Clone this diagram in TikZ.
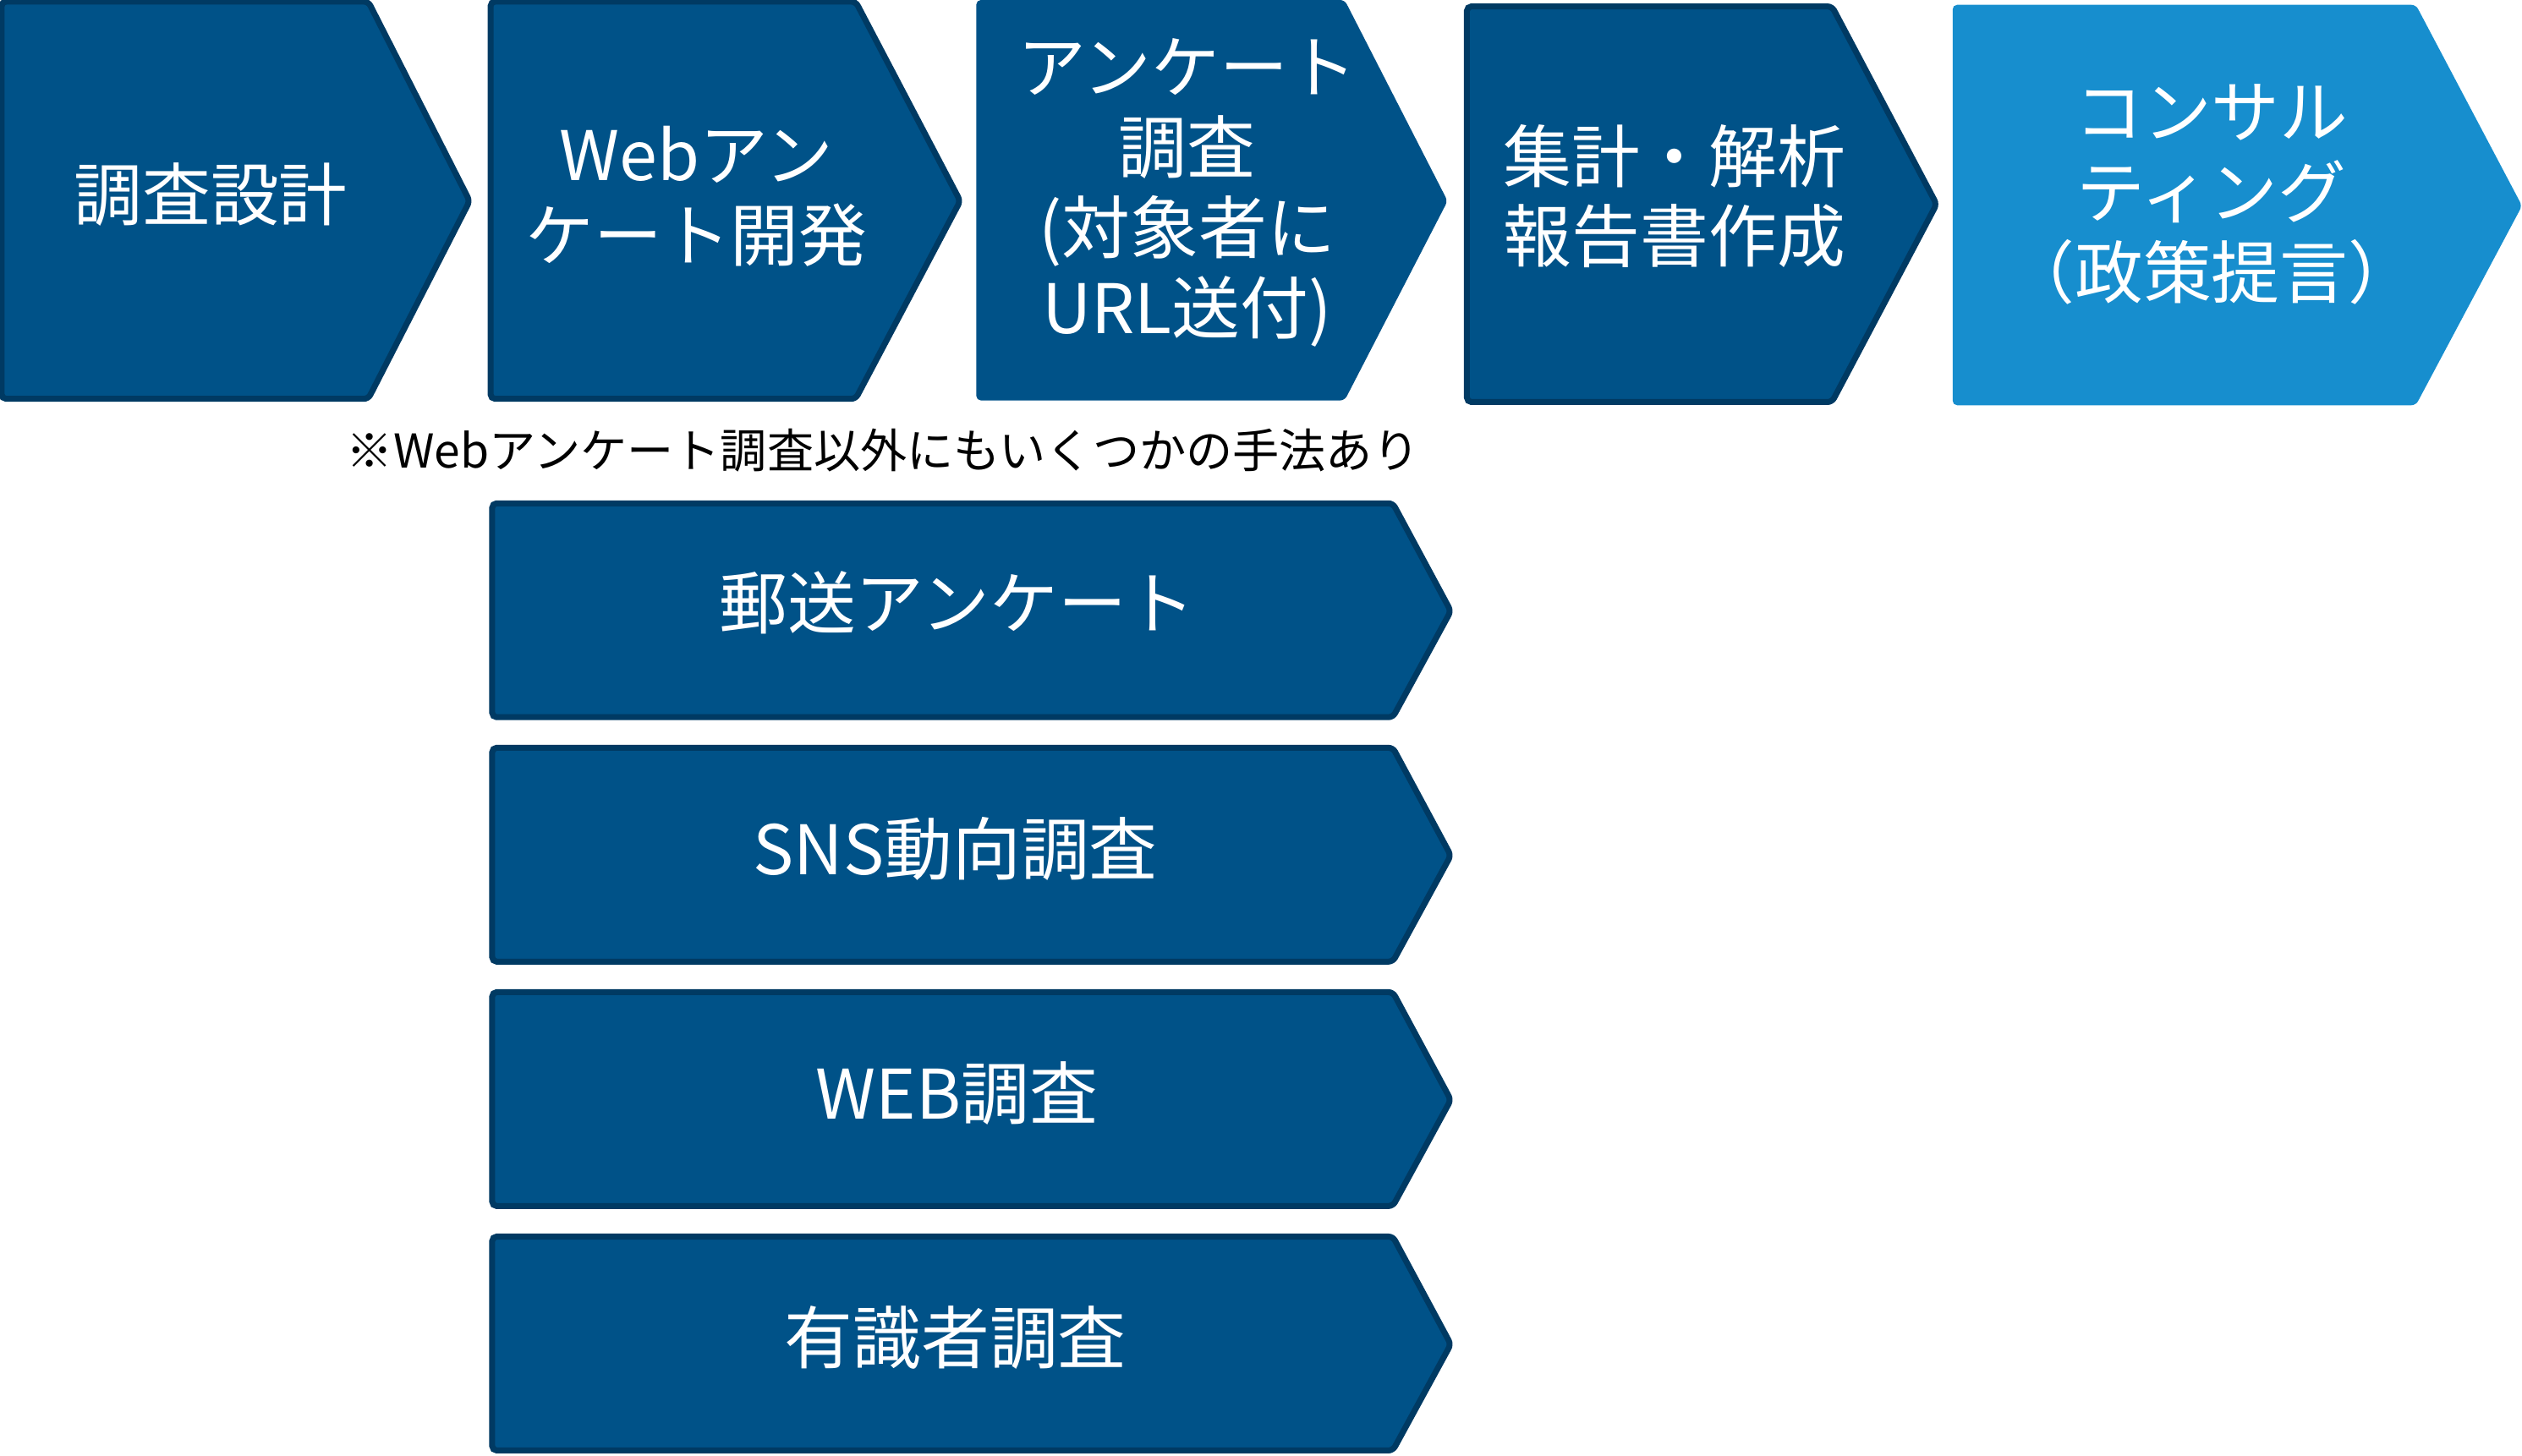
\documentclass[tikz,border=0pt]{standalone}
\usepackage{fontspec}
\newfontfamily\jp{Noto Sans CJK JP}
\definecolor{boxblue}{RGB}{0,82,136}
\definecolor{boxline}{RGB}{0,58,99}
\definecolor{lightblue}{RGB}{23,142,206}
\tikzset{
  stepbox/.style={fill=boxblue, draw=boxline, line width=2pt, rounded corners=1.5pt},
  plainbox/.style={fill=boxblue, rounded corners=1.5pt},
  lightbox/.style={fill=lightblue, rounded corners=1.5pt},
  label/.style={text=white, align=center, font=\jp\fontsize{23}{27}\selectfont}
}

\begin{document}
\begin{tikzpicture}[x=0.1902mm, y=-0.1902mm]
    \useasboundingbox (0,0) rectangle (1568,905);
    % top row
    \draw[stepbox]  (1,1) -- (229,1) -- (292,125) -- (229,248) -- (1,248) -- cycle;
    \draw[stepbox]  (305,1) -- (532,1) -- (597,125) -- (532,248) -- (305,248) -- cycle;
    \fill[plainbox] (607,0) -- (836,0) -- (900,125) -- (836,249) -- (607,249) -- cycle;
    \draw[stepbox]  (912,4) -- (1139,4) -- (1204,127) -- (1139,250) -- (912,250) -- cycle;
    \fill[lightbox] (1214,3) -- (1502,3) -- (1568,128) -- (1502,252) -- (1214,252) -- cycle;
    \node[label] (design)  at (131,121) {調査設計};
    \node[label] (develop) at (433,122) {Webアン\\ケート開発};
    \node[label] (survey)  at (738,120) {アンケート\\調査\\(対象者に\\URL送付)};
    \node[label] (report)  at (1041,122) {集計・解析\\報告書作成};
    \node[label] (consult) at (1375,121) {コンサル\\ティング\\（政策提言）};
    % other methods
    \node[font=\jp\fontsize{15.7}{19}\selectfont] (note) at (549,280) {※Webアンケート調査以外にもいくつかの手法あり};
    \foreach \y in {313,465,617,769}
        \draw[stepbox] (306,\y) -- (866,\y) -- (902,\y+67) -- (866,\y+133) -- (306,\y+133) -- cycle;
    \node[label] (mail) at (595,375) {郵送アンケート};
    \node[label] (sns)  at (594,528) {SNS動向調査};
    \node[label] (web)  at (595,680) {WEB調査};
    \node[label] (expert) at (594,832) {有識者調査};
\end{tikzpicture}
\end{document}
